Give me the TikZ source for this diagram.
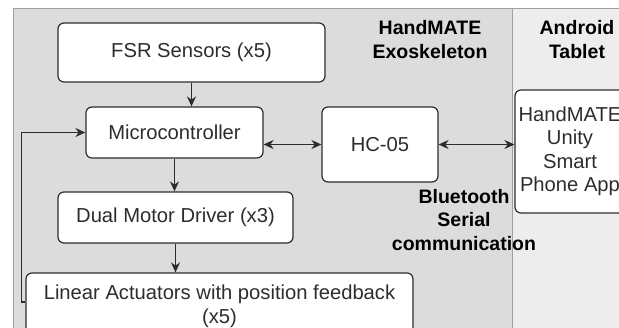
\documentclass[tikz,border=0pt]{standalone}
\usepackage{fontspec}
\setmainfont{Liberation Sans}
\usetikzlibrary{calc}
\usetikzlibrary{arrows.meta}
\definecolor{exogray}{RGB}{220,220,220}
\definecolor{tabgray}{RGB}{237,237,237}
\definecolor{edgegray}{RGB}{160,160,160}
\definecolor{inkgray}{RGB}{45,45,45}
\newcommand{\boxfont}{\fontsize{20.2}{23.5}\selectfont}
\newcommand{\headfont}{\fontsize{19.5}{23.5}\selectfont\bfseries}
\tikzstyle{block}=[draw=inkgray,line width=1.2pt,rounded corners=6pt,fill=white,text=inkgray,align=center,inner sep=0pt,font=\boxfont]
\tikzstyle{heading}=[font=\headfont,align=center,text=black]
\tikzstyle{link}=[-{Stealth[length=10pt,width=9pt]},line width=1.2pt,draw=inkgray]
\tikzstyle{duplex}=[{Stealth[length=10pt,width=9pt]}-{Stealth[length=10pt,width=9pt]},line width=1.2pt,draw=inkgray]

\begin{document}
\begin{tikzpicture}[x=1pt,y=-1pt]
  \useasboundingbox (0,0) rectangle (619,328);
  \clip (0,0) rectangle (619,328);
  % the two areas
  \draw[fill=exogray,draw=edgegray,line width=1pt] (13,9) rectangle (512,340);
  \draw[fill=tabgray,draw=edgegray,line width=1pt] (512,9) rectangle (640,340);
  \node[heading] (exo) at (430,39.5) {HandMATE\\Exoskeleton};
  \node[heading] (tab) at (577,39.5) {Android\\Tablet};

  % blocks
  \node[block,minimum width=267pt,minimum height=59pt] (fsr) at (191.5,52.5) {FSR Sensors (x5)};
  \node[block,minimum width=177pt,minimum height=51pt] (mcu) at (174.5,132.5) {Microcontroller};
  \node[block,minimum width=116pt,minimum height=75pt] (hc) at (380,144.5) {HC-05};
  \node[block,minimum width=235pt,minimum height=51pt] (drv) at (175.5,217.5) {Dual Motor Driver (x3)};
  \node[block,minimum width=387pt,minimum height=67pt] (act) at (219.5,306.5) {Linear Actuators with position feedback\\(x5)};
  \node[block,minimum width=110pt,minimum height=123pt] (app) at (570,151.5) {HandMATE\\Unity\\Smart\\Phone App};
  \node[heading] (bt) at (464,220) {Bluetooth\\Serial\\communication};

  % connections
  \draw[link] (fsr.south) -- (fsr.south |- mcu.north);
  \draw[duplex] (hc.west -| mcu.east) -- (hc.west);
  \draw[duplex] (hc.east) -- (hc.east -| app.west);
  \draw[link] (mcu.south) -- (mcu.south |- drv.north);
  \draw[link] (drv.south) -- (drv.south |- act.north);
  \coordinate (fb) at (act.west |- 0,302);
  \draw[link] (fb) -- ++(-4,0) |- (mcu.west); %feedback
\end{tikzpicture}
\end{document}
